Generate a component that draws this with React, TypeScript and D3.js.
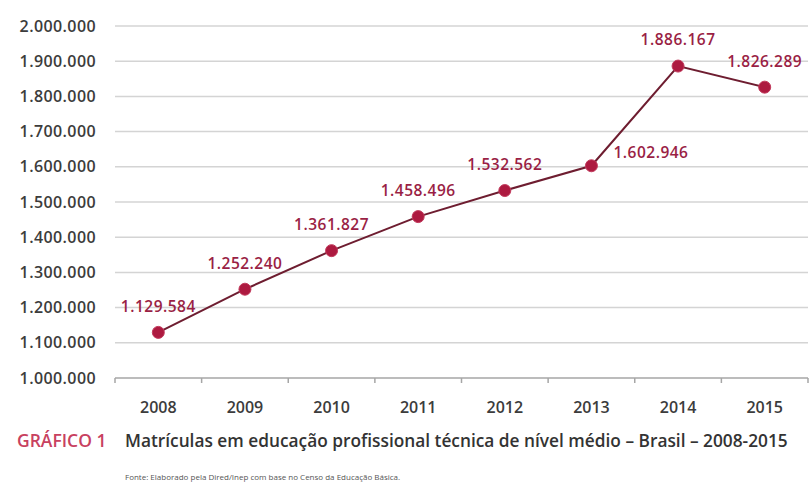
import React from "react";
import * as d3 from "d3";

const years = ["2008", "2009", "2010", "2011", "2012", "2013", "2014", "2015"];
const values = [1129584, 1252240, 1361827, 1458496, 1532562, 1602946, 1886167, 1826289];
const yTicks = [1000000, 1100000, 1200000, 1300000, 1400000, 1500000, 1600000, 1700000, 1800000, 1900000, 2000000];
// label placement: "above" or "right"
const labelPos = ["above", "above", "above", "above", "above", "right", "above", "above"];

const W = 811;
const H = 484;
const fmt = (v: number) => d3.format(",")(v).replace(/,/g, ".");

export default function App() {
  const x = d3.scaleBand<string>().domain(years).range([115, 808]).paddingInner(0).paddingOuter(0);
  const y = d3.scaleLinear().domain([1000000, 2000000]).range([378, 26]);
  const cx = (i: number) => (x(years[i]) as number) + x.bandwidth() / 2;
  const line = d3
    .line<number>()
    .x((_, i) => cx(i))
    .y((d) => y(d));
  const font = "'Open Sans', 'Noto Sans', sans-serif";
  const tickBounds = years.map((yr) => x(yr) as number).concat([808]);

  return (
    <svg width={W} height={H} style={{ position: "absolute", left: 0, top: 0, background: "#fff" }} fontFamily={font}>
      {yTicks.map((t) => (
        <g key={t}>
          {t > 1000000 && (
            <line x1={115} x2={808} y1={y(t)} y2={y(t)} stroke="#d4d4d4" strokeWidth={1.5} />
          )}
          <text x={96} y={y(t)} dy="0.35em" textAnchor="end" fontSize={16} fontWeight={600} fill="#3c3c3c" letterSpacing={0.4}>
            {fmt(t)}
          </text>
        </g>
      ))}
      <line x1={115} x2={808} y1={y(1000000)} y2={y(1000000)} stroke="#a6a6a6" strokeWidth={1.5} />
      {tickBounds.map((tx, i) => (
        <line key={i} x1={tx} x2={tx} y1={y(1000000)} y2={y(1000000) + 5} stroke="#a6a6a6" strokeWidth={1.5} />
      ))}
      {years.map((yr, i) => (
        <text key={yr} x={cx(i)} y={407} dy="0.35em" textAnchor="middle" fontSize={16} fontWeight={600} fill="#3c3c3c">
          {yr}
        </text>
      ))}
      <path d={line(values) as string} fill="none" stroke="#6e1d30" strokeWidth={2} />
      {values.map((v, i) => (
        <circle key={i} cx={cx(i)} cy={y(v)} r={6} fill="#ad1a40" stroke="#c23a5c" strokeWidth={1} />
      ))}
      {values.map((v, i) => {
        const right = labelPos[i] === "right";
        return (
          <text
            key={"l" + i}
            x={right ? cx(i) + 22 : cx(i)}
            y={right ? y(v) - 13 : y(v) - 26}
            dy="0.35em"
            textAnchor={right ? "start" : "middle"}
            fontSize={15.5}
            fontWeight={600}
            fill="#9a1f45"
            letterSpacing={0.5}
          >
            {fmt(v)}
          </text>
        );
      })}
      <text x={17} y={441} dy="0.35em" fontSize={17.5} fontWeight={600} fill="#c8415f">
        GRÁFICO 1
      </text>
      <text x={125} y={441} dy="0.35em" fontSize={17.3} fontWeight={600} fill="#333">
        Matrículas em educação profissional técnica de nível médio – Brasil – 2008-2015
      </text>
      <text x={125} y={477} dy="0.35em" fontSize={8} fill="#555">
        Fonte: Elaborado pela Dired/Inep com base no Censo da Educação Básica.
      </text>
    </svg>
  );
}
